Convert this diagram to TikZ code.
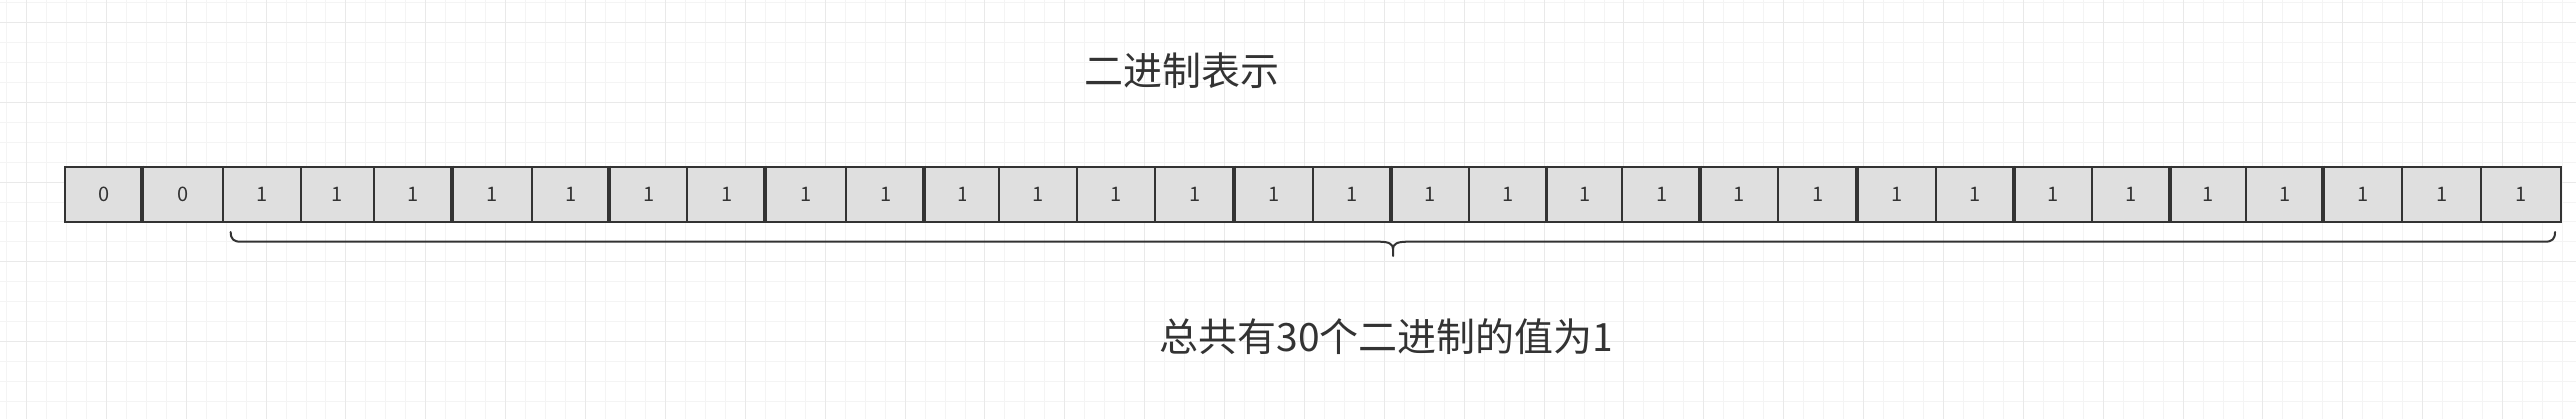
\documentclass[tikz,border=0pt]{standalone}
\usepackage{fontspec}
\setmainfont{Noto Sans CJK SC}
\definecolor{ink}{HTML}{333333}
\definecolor{cellfill}{HTML}{DFDFDF}
\definecolor{gridminor}{HTML}{F4F4F4}
\definecolor{gridmajor}{HTML}{E9E9E9}
\tikzset{
  cell/.style={draw=ink, fill=cellfill, line width=2pt, minimum height=56pt, inner sep=0pt, text=ink, font=\fontsize{20}{20}\selectfont},
  thickedge/.style={draw=ink, line width=3.6pt},
  bracestyle/.style={draw=ink, line width=2pt, line cap=round},
  label/.style={text=ink, inner sep=0pt, font=\fontsize{39}{39}\selectfont}
}
\begin{document}
\begin{tikzpicture}[x=1pt,y=-1pt]
\useasboundingbox (0,0) rectangle (2580,420);
\fill[white] (0,0) rectangle (2580,420);
% grid
\foreach \gx in {0,...,128} {\draw[gridminor, line width=1.5pt] ({6.7+20*\gx},0) -- ({6.7+20*\gx},420);}
\foreach \gy in {0,...,20} {\draw[gridminor, line width=1.5pt] (0,{2.7+20*\gy}) -- (2580,{2.7+20*\gy});}
\foreach \gx in {0,...,32} {\draw[gridmajor, line width=1.5pt] ({26.7+80*\gx},0) -- ({26.7+80*\gx},420);}
\foreach \gy in {0,...,5} {\draw[gridmajor, line width=1.5pt] (0,{22.7+80*\gy}) -- (2580,{22.7+80*\gy});}
% cells
\foreach \l/\r/\v [count=\i] in {65.2/143.1/0, 143.1/223.1/0, 223.1/300.9/1, 300.9/374.6/1, 374.6/453.7/1, 453.7/533.2/1, 533.2/611.1/1, 611.1/688.4/1, 688.4/767.1/1, 767.1/847.1/1, 847.1/926.2/1, 926.2/1001.1/1, 1001.1/1079.4/1, 1079.4/1156.8/1, 1156.8/1236.8/1, 1236.8/1314.5/1, 1314.5/1393.6/1, 1393.6/1470.7/1, 1470.7/1549.4/1, 1549.4/1625.1/1, 1625.1/1704.2/1, 1704.2/1780.8/1, 1780.8/1860.8/1, 1860.8/1938.9/1, 1938.9/2017.6/1, 2017.6/2094.7/1, 2094.7/2173.8/1, 2173.8/2249.1/1, 2249.1/2328.2/1, 2328.2/2406.1/1, 2406.1/2485.2/1, 2485.2/2564.8/1} {
  \pgfmathsetmacro\cw{\r-\l}
  \pgfmathsetmacro\cm{(\l+\r)/2}
  \node[cell, minimum width=\cw pt] (c\i) at (\cm,194.7) {\v};
}
\foreach \k in {2,6,8,10,12,16,18,20,22,24,26,28,30} {
  \draw[thickedge] (c\k.north west) -- (c\k.south west);
}
% brace
\coordinate (bl) at (230.7,233);
\coordinate (br) at (2559,233);
\coordinate (bt) at (1395,257);
\draw[bracestyle] (bl) .. controls (230.7,240) and (233.5,242.7) .. (240.7,242.7)
  -- (1381,242.7) .. controls (1391,242.7) and (1395,245) .. (1395,250) -- (bt);
\draw[bracestyle] (br) .. controls (2559,240) and (2556.2,242.7) .. (2549,242.7)
  -- (1409,242.7) .. controls (1399,242.7) and (1395,245) .. (1395,250);
% labels
\node[label] (title) at (1184,71) {二进制表示};
\node[label] (note) at (1389,338) {总共有30个二进制的值为1};
\end{tikzpicture}
\end{document}
